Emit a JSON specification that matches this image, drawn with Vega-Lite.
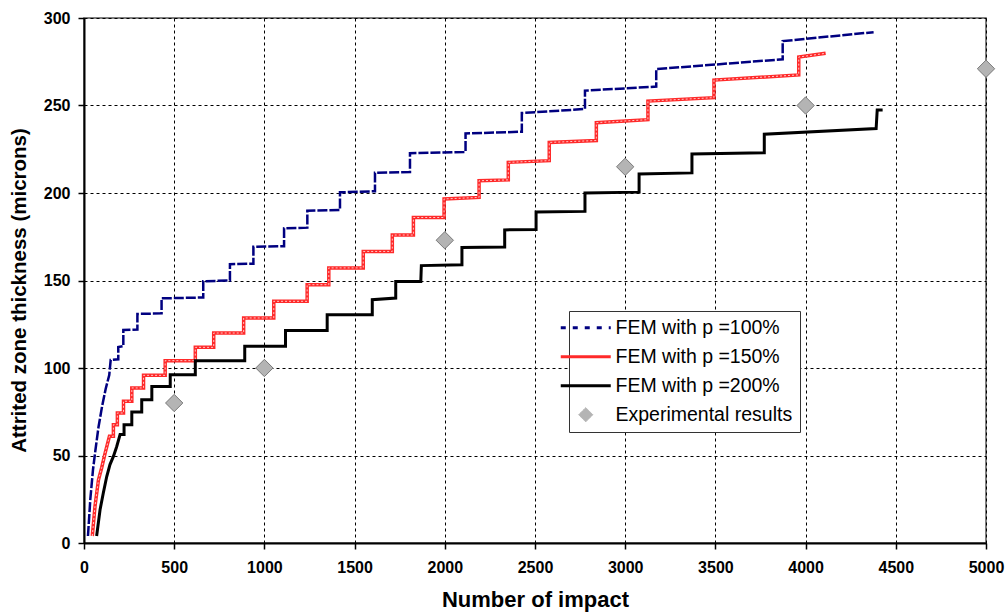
{
  "$schema": "https://vega.github.io/schema/vega-lite/v6.json",
  "width": 902,
  "height": 525,
  "autosize": {"type": "none"},
  "padding": {"left": 84, "top": 18, "right": 21, "bottom": 70},
  "background": "white",
  "config": {
    "view": {"stroke": "#555", "strokeWidth": 1.5},
    "font": "Liberation Sans",
    "axis": {
      "domainColor": "black", "domainWidth": 2,
      "tickColor": "black", "tickWidth": 1.5, "tickSize": 6,
      "grid": true, "gridColor": "black", "gridDash": [3, 3], "gridWidth": 1, "gridOpacity": 1,
      "labelFont": "Liberation Sans", "labelFontWeight": "bold", "labelFontSize": 16, "labelColor": "black",
      "titleFont": "Liberation Sans", "titleFontWeight": "bold", "titleFontSize": 22, "titleColor": "black"
    }
  },
  "datasets": {
    "fem": [
      {"series": "FEM with p =100%", "impact": 22, "thickness": 4},
      {"series": "FEM with p =100%", "impact": 35, "thickness": 25},
      {"series": "FEM with p =100%", "impact": 50, "thickness": 42},
      {"series": "FEM with p =100%", "impact": 62, "thickness": 52},
      {"series": "FEM with p =100%", "impact": 80, "thickness": 66},
      {"series": "FEM with p =100%", "impact": 100, "thickness": 78},
      {"series": "FEM with p =100%", "impact": 120, "thickness": 88},
      {"series": "FEM with p =100%", "impact": 140, "thickness": 96},
      {"series": "FEM with p =100%", "impact": 148, "thickness": 104.6},
      {"series": "FEM with p =100%", "impact": 190, "thickness": 105},
      {"series": "FEM with p =100%", "impact": 190, "thickness": 112},
      {"series": "FEM with p =100%", "impact": 218, "thickness": 112.5},
      {"series": "FEM with p =100%", "impact": 218, "thickness": 121.7},
      {"series": "FEM with p =100%", "impact": 296, "thickness": 122},
      {"series": "FEM with p =100%", "impact": 296, "thickness": 130.9},
      {"series": "FEM with p =100%", "impact": 430, "thickness": 131.2},
      {"series": "FEM with p =100%", "impact": 430, "thickness": 139.8},
      {"series": "FEM with p =100%", "impact": 661, "thickness": 140.3},
      {"series": "FEM with p =100%", "impact": 661, "thickness": 149.6},
      {"series": "FEM with p =100%", "impact": 809, "thickness": 150},
      {"series": "FEM with p =100%", "impact": 809, "thickness": 159.3},
      {"series": "FEM with p =100%", "impact": 939, "thickness": 159.6},
      {"series": "FEM with p =100%", "impact": 939, "thickness": 169.3},
      {"series": "FEM with p =100%", "impact": 1109, "thickness": 169.6},
      {"series": "FEM with p =100%", "impact": 1109, "thickness": 179.8},
      {"series": "FEM with p =100%", "impact": 1238, "thickness": 180.2},
      {"series": "FEM with p =100%", "impact": 1238, "thickness": 189.9},
      {"series": "FEM with p =100%", "impact": 1419, "thickness": 190.3},
      {"series": "FEM with p =100%", "impact": 1419, "thickness": 200.4},
      {"series": "FEM with p =100%", "impact": 1613, "thickness": 201},
      {"series": "FEM with p =100%", "impact": 1613, "thickness": 211.6},
      {"series": "FEM with p =100%", "impact": 1807, "thickness": 212},
      {"series": "FEM with p =100%", "impact": 1807, "thickness": 222.7},
      {"series": "FEM with p =100%", "impact": 2115, "thickness": 223.5},
      {"series": "FEM with p =100%", "impact": 2115, "thickness": 234},
      {"series": "FEM with p =100%", "impact": 2427, "thickness": 235},
      {"series": "FEM with p =100%", "impact": 2427, "thickness": 245.7},
      {"series": "FEM with p =100%", "impact": 2777, "thickness": 248},
      {"series": "FEM with p =100%", "impact": 2777, "thickness": 258.5},
      {"series": "FEM with p =100%", "impact": 3172, "thickness": 260.8},
      {"series": "FEM with p =100%", "impact": 3172, "thickness": 270.8},
      {"series": "FEM with p =100%", "impact": 3873, "thickness": 276.4},
      {"series": "FEM with p =100%", "impact": 3873, "thickness": 286.8},
      {"series": "FEM with p =100%", "impact": 4377, "thickness": 291.9},

      {"series": "FEM with p =150%", "impact": 46, "thickness": 4},
      {"series": "FEM with p =150%", "impact": 61, "thickness": 21},
      {"series": "FEM with p =150%", "impact": 80, "thickness": 36},
      {"series": "FEM with p =150%", "impact": 98, "thickness": 43},
      {"series": "FEM with p =150%", "impact": 117, "thickness": 51.4},
      {"series": "FEM with p =150%", "impact": 141, "thickness": 61},
      {"series": "FEM with p =150%", "impact": 163, "thickness": 61},
      {"series": "FEM with p =150%", "impact": 163, "thickness": 67.6},
      {"series": "FEM with p =150%", "impact": 185, "thickness": 67.6},
      {"series": "FEM with p =150%", "impact": 185, "thickness": 74.3},
      {"series": "FEM with p =150%", "impact": 219, "thickness": 74.3},
      {"series": "FEM with p =150%", "impact": 219, "thickness": 81},
      {"series": "FEM with p =150%", "impact": 265, "thickness": 81},
      {"series": "FEM with p =150%", "impact": 265, "thickness": 88.6},
      {"series": "FEM with p =150%", "impact": 330, "thickness": 88.6},
      {"series": "FEM with p =150%", "impact": 330, "thickness": 95.8},
      {"series": "FEM with p =150%", "impact": 450, "thickness": 95.8},
      {"series": "FEM with p =150%", "impact": 450, "thickness": 104.2},
      {"series": "FEM with p =150%", "impact": 617, "thickness": 104.2},
      {"series": "FEM with p =150%", "impact": 617, "thickness": 111.8},
      {"series": "FEM with p =150%", "impact": 719, "thickness": 111.8},
      {"series": "FEM with p =150%", "impact": 719, "thickness": 120},
      {"series": "FEM with p =150%", "impact": 885, "thickness": 120},
      {"series": "FEM with p =150%", "impact": 885, "thickness": 128.6},
      {"series": "FEM with p =150%", "impact": 1052, "thickness": 128.6},
      {"series": "FEM with p =150%", "impact": 1052, "thickness": 138.1},
      {"series": "FEM with p =150%", "impact": 1237, "thickness": 138.1},
      {"series": "FEM with p =150%", "impact": 1237, "thickness": 147.6},
      {"series": "FEM with p =150%", "impact": 1357, "thickness": 147.6},
      {"series": "FEM with p =150%", "impact": 1357, "thickness": 157.2},
      {"series": "FEM with p =150%", "impact": 1548, "thickness": 157.2},
      {"series": "FEM with p =150%", "impact": 1548, "thickness": 166.6},
      {"series": "FEM with p =150%", "impact": 1709, "thickness": 166.6},
      {"series": "FEM with p =150%", "impact": 1709, "thickness": 176},
      {"series": "FEM with p =150%", "impact": 1826, "thickness": 176},
      {"series": "FEM with p =150%", "impact": 1826, "thickness": 186},
      {"series": "FEM with p =150%", "impact": 1996, "thickness": 186},
      {"series": "FEM with p =150%", "impact": 1996, "thickness": 196.6},
      {"series": "FEM with p =150%", "impact": 2190, "thickness": 197.5},
      {"series": "FEM with p =150%", "impact": 2190, "thickness": 207},
      {"series": "FEM with p =150%", "impact": 2352, "thickness": 207.5},
      {"series": "FEM with p =150%", "impact": 2352, "thickness": 217.5},
      {"series": "FEM with p =150%", "impact": 2579, "thickness": 218.5},
      {"series": "FEM with p =150%", "impact": 2579, "thickness": 228.9},
      {"series": "FEM with p =150%", "impact": 2840, "thickness": 230},
      {"series": "FEM with p =150%", "impact": 2840, "thickness": 240.2},
      {"series": "FEM with p =150%", "impact": 3126, "thickness": 241.9},
      {"series": "FEM with p =150%", "impact": 3126, "thickness": 252.5},
      {"series": "FEM with p =150%", "impact": 3492, "thickness": 254.5},
      {"series": "FEM with p =150%", "impact": 3492, "thickness": 264.5},
      {"series": "FEM with p =150%", "impact": 3962, "thickness": 267.5},
      {"series": "FEM with p =150%", "impact": 3962, "thickness": 277.7},
      {"series": "FEM with p =150%", "impact": 4111, "thickness": 279.8},

      {"series": "FEM with p =200%", "impact": 70, "thickness": 4},
      {"series": "FEM with p =200%", "impact": 89, "thickness": 19},
      {"series": "FEM with p =200%", "impact": 107, "thickness": 28.6},
      {"series": "FEM with p =200%", "impact": 126, "thickness": 38},
      {"series": "FEM with p =200%", "impact": 144, "thickness": 44.8},
      {"series": "FEM with p =200%", "impact": 163, "thickness": 49.5},
      {"series": "FEM with p =200%", "impact": 181, "thickness": 55},
      {"series": "FEM with p =200%", "impact": 200, "thickness": 62},
      {"series": "FEM with p =200%", "impact": 222, "thickness": 62},
      {"series": "FEM with p =200%", "impact": 222, "thickness": 67.6},
      {"series": "FEM with p =200%", "impact": 265, "thickness": 67.6},
      {"series": "FEM with p =200%", "impact": 265, "thickness": 74.9},
      {"series": "FEM with p =200%", "impact": 320, "thickness": 74.9},
      {"series": "FEM with p =200%", "impact": 320, "thickness": 81.9},
      {"series": "FEM with p =200%", "impact": 376, "thickness": 81.9},
      {"series": "FEM with p =200%", "impact": 376, "thickness": 89.5},
      {"series": "FEM with p =200%", "impact": 478, "thickness": 89.5},
      {"series": "FEM with p =200%", "impact": 478, "thickness": 96.2},
      {"series": "FEM with p =200%", "impact": 617, "thickness": 96.2},
      {"series": "FEM with p =200%", "impact": 617, "thickness": 104.2},
      {"series": "FEM with p =200%", "impact": 891, "thickness": 104.2},
      {"series": "FEM with p =200%", "impact": 891, "thickness": 112.4},
      {"series": "FEM with p =200%", "impact": 1117, "thickness": 112.4},
      {"series": "FEM with p =200%", "impact": 1117, "thickness": 121.5},
      {"series": "FEM with p =200%", "impact": 1348, "thickness": 121.5},
      {"series": "FEM with p =200%", "impact": 1348, "thickness": 130.5},
      {"series": "FEM with p =200%", "impact": 1598, "thickness": 130.5},
      {"series": "FEM with p =200%", "impact": 1598, "thickness": 139},
      {"series": "FEM with p =200%", "impact": 1728, "thickness": 140},
      {"series": "FEM with p =200%", "impact": 1728, "thickness": 149.5},
      {"series": "FEM with p =200%", "impact": 1867, "thickness": 149.5},
      {"series": "FEM with p =200%", "impact": 1870, "thickness": 158.5},
      {"series": "FEM with p =200%", "impact": 2095, "thickness": 159},
      {"series": "FEM with p =200%", "impact": 2095, "thickness": 168.9},
      {"series": "FEM with p =200%", "impact": 2332, "thickness": 169.2},
      {"series": "FEM with p =200%", "impact": 2332, "thickness": 178.9},
      {"series": "FEM with p =200%", "impact": 2506, "thickness": 179.2},
      {"series": "FEM with p =200%", "impact": 2506, "thickness": 189.2},
      {"series": "FEM with p =200%", "impact": 2777, "thickness": 189.5},
      {"series": "FEM with p =200%", "impact": 2777, "thickness": 200},
      {"series": "FEM with p =200%", "impact": 3077, "thickness": 200.5},
      {"series": "FEM with p =200%", "impact": 3077, "thickness": 210.9},
      {"series": "FEM with p =200%", "impact": 3370, "thickness": 211.5},
      {"series": "FEM with p =200%", "impact": 3370, "thickness": 222.3},
      {"series": "FEM with p =200%", "impact": 3771, "thickness": 223},
      {"series": "FEM with p =200%", "impact": 3771, "thickness": 233.6},
      {"series": "FEM with p =200%", "impact": 4391, "thickness": 236.8},
      {"series": "FEM with p =200%", "impact": 4397, "thickness": 247.5},
      {"series": "FEM with p =200%", "impact": 4427, "thickness": 247.5}
    ],
    "exp": [
      {"series": "Experimental results", "impact": 500, "thickness": 80},
      {"series": "Experimental results", "impact": 1000, "thickness": 100},
      {"series": "Experimental results", "impact": 2000, "thickness": 173},
      {"series": "Experimental results", "impact": 3000, "thickness": 215},
      {"series": "Experimental results", "impact": 4000, "thickness": 250},
      {"series": "Experimental results", "impact": 5000, "thickness": 271}
    ]
  },
  "encoding": {
    "x": {
      "field": "impact", "type": "quantitative",
      "scale": {"domain": [0, 5000], "nice": false},
      "axis": {
        "title": "Number of impact",
        "values": [0, 500, 1000, 1500, 2000, 2500, 3000, 3500, 4000, 4500, 5000],
        "format": "d", "labelPadding": 10, "titlePadding": 14,
        "labelFlush": false, "labelOverlap": false
      }
    },
    "y": {
      "field": "thickness", "type": "quantitative",
      "scale": {"domain": [0, 300], "nice": false},
      "axis": {
        "title": "Attrited zone thickness (microns)",
        "values": [0, 50, 100, 150, 200, 250, 300],
        "labelPadding": 8, "titleX": -55, "titleY": 272, "titleFontSize": 20.5,
        "titleAlign": "center", "titleAngle": -90, "titleBaseline": "bottom",
        "labelFlush": false, "labelOverlap": false
      }
    },
    "color": {
      "field": "series", "type": "nominal",
      "scale": {
        "domain": ["FEM with p =100%", "FEM with p =150%", "FEM with p =200%", "Experimental results"],
        "range": ["#000080", "#ff2a2a", "#000000", "#b4b4b4"]
      },
      "legend": {
        "title": null, "orient": "none", "legendX": 485, "legendY": 293,
        "labelFont": "Liberation Sans", "labelFontSize": 19.5, "labelColor": "black", "labelLimit": 400,
        "strokeColor": "#333", "fillColor": "white", "padding": 7, "rowPadding": 8,
        "symbolSize": 2500, "symbolType": "stroke", "symbolStrokeWidth": 3, "labelOffset": 20,
        "encode": {
          "symbols": {
            "update": {
              "shape": {"signal": "datum.value === 'Experimental results' ? 'diamond' : 'stroke'"},
              "size": {"signal": "datum.value === 'Experimental results' ? 200 : 2500"},
              "strokeDash": {"signal": "datum.value === 'FEM with p =100%' ? [5, 7] : [1, 0]"},
              "strokeWidth": {"signal": "datum.value === 'Experimental results' ? 1 : 3"},
              "fill": {"signal": "datum.value === 'Experimental results' ? '#b4b4b4' : 'transparent'"},
              "stroke": {"signal": "datum.value === 'Experimental results' ? '#7a7a7a' : scale('color', datum.value)"},
              "opacity": {"value": 1}
            }
          }
        }
      }
    }
  },
  "layer": [
    {
      "data": {"name": "fem"},
      "transform": [{"filter": "datum.series === 'FEM with p =100%'"}],
      "mark": {"type": "line", "strokeWidth": 2.5, "strokeDash": [10, 2]}
    },
    {
      "data": {"name": "fem"},
      "transform": [{"filter": "datum.series === 'FEM with p =150%'"}],
      "mark": {"type": "line", "strokeWidth": 3.5}
    },
    {
      "data": {"name": "fem"},
      "transform": [{"filter": "datum.series === 'FEM with p =150%'"}],
      "mark": {"type": "line", "strokeWidth": 1, "strokeDash": [2, 2], "color": "#ffc8c8"},
      "encoding": {"color": {"value": "#ffc8c8"}}
    },
    {
      "data": {"name": "fem"},
      "transform": [{"filter": "datum.series === 'FEM with p =200%'"}],
      "mark": {"type": "line", "strokeWidth": 3}
    },
    {
      "data": {"name": "exp"},
      "mark": {"type": "point", "shape": "diamond", "filled": true, "size": 300, "stroke": "#7a7a7a", "strokeWidth": 1, "opacity": 1}
    }
  ]
}
